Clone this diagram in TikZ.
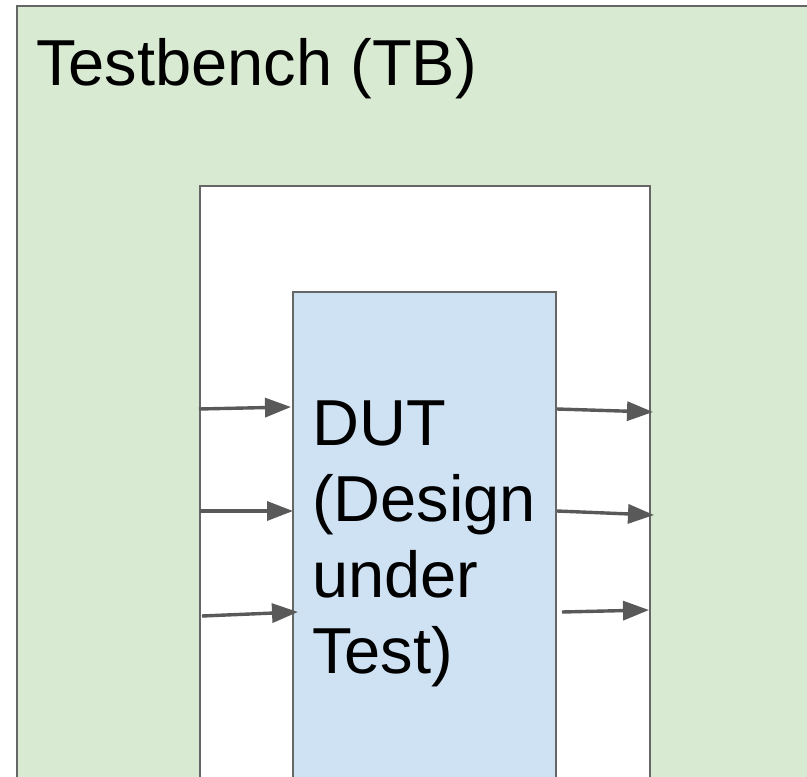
\documentclass[tikz,border=0pt]{standalone}
\usepackage{fontspec}
\setmainfont{Liberation Sans}
\usetikzlibrary{arrows.meta}
\definecolor{tbgreen}{HTML}{D9EAD3}
\definecolor{dutblue}{HTML}{CFE2F3}
\definecolor{edge}{HTML}{666666}
\definecolor{wire}{HTML}{595959}
\tikzset{
  box/.style={draw=edge, line width=1.6pt},
  sig/.style={draw=wire, line width=3.4pt,
    -{Triangle[length=26pt,width=19pt]}},
  big/.style={font=\fontsize{65}{76}\selectfont, inner sep=0pt}
}
\begin{document}
\begin{tikzpicture}[x=1pt,y=-1pt]
  \useasboundingbox (0,0) rectangle (807,777);
  \clip (0,0) rectangle (807,777);
  % testbench, harness area and device under test
  \path[box, fill=tbgreen] (17,6) rectangle (840,820);
  \path[box, fill=white] (200,186) rectangle (650,820);
  \path[box, fill=dutblue] (293,292) rectangle (556,820);
  \node[big, anchor=base west] (tb) at (36,85) {Testbench (TB)};
  \node[big, anchor=base west, align=left] (dut) at (312,673)
    {DUT\\(Design\\under\\Test)};
  % input wires
  \coordinate (i1) at (199,409); \coordinate (d1) at (291,407);
  \coordinate (i2) at (200,511); \coordinate (d2) at (293,511);
  \coordinate (i3) at (202,616); \coordinate (d3) at (298,612);
  % output wires
  \coordinate (q1) at (557,409); \coordinate (o1) at (653,412);
  \coordinate (q2) at (557,511); \coordinate (o2) at (654,515);
  \coordinate (q3) at (562,612); \coordinate (o3) at (649,610);
  \draw[sig] (i1) -- (d1);
  \draw[sig] (i2) -- (d2);
  \draw[sig] (i3) -- (d3);
  \draw[sig] (q1) -- (o1);
  \draw[sig] (q2) -- (o2);
  \draw[sig] (q3) -- (o3);
\end{tikzpicture}
\end{document}
